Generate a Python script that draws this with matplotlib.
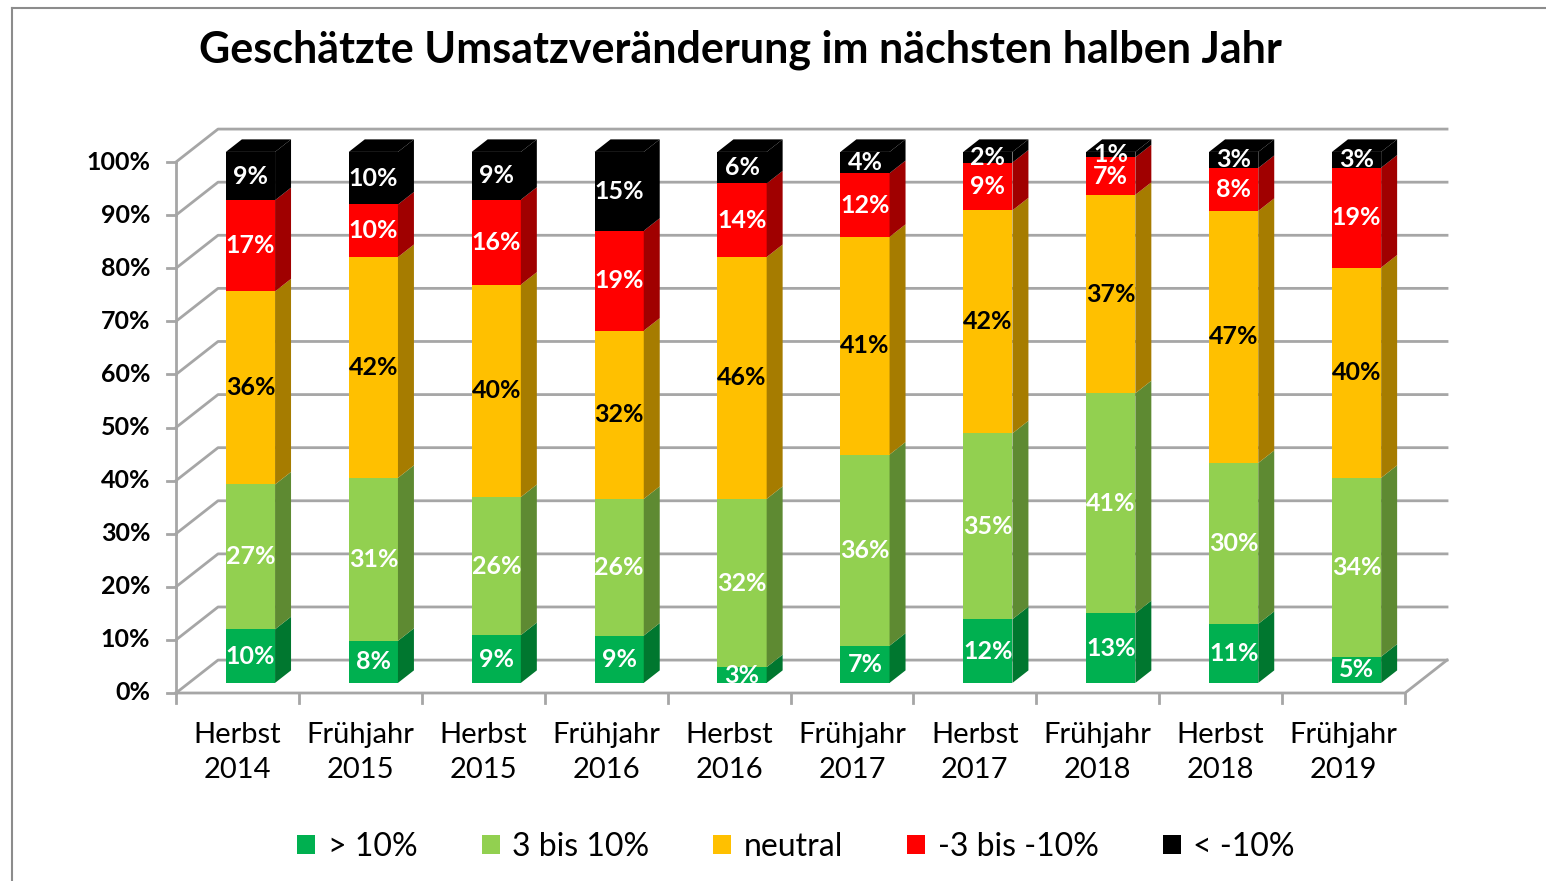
import matplotlib.pyplot as plt
import numpy as np
from matplotlib.patches import Polygon, Patch
from matplotlib.lines import Line2D

plt.rcParams['font.family'] = ['Lato', 'DejaVu Sans']

categories = ['Herbst\n2014', 'Frühjahr\n2015', 'Herbst\n2015', 'Frühjahr\n2016', 'Herbst\n2016',
              'Frühjahr\n2017', 'Herbst\n2017', 'Frühjahr\n2018', 'Herbst\n2018', 'Frühjahr\n2019']
series_names = ['> 10%', '3 bis 10%', 'neutral', '-3 bis -10%', '< -10%']
gt10 = [10, 8, 9, 9, 3, 7, 12, 13, 11, 5]
p3_10 = [27, 31, 26, 26, 32, 36, 35, 41, 30, 34]
neutral = [36, 42, 40, 32, 46, 41, 42, 37, 47, 40]
m3_10 = [17, 10, 16, 19, 14, 12, 9, 7, 8, 19]
lt10 = [9, 10, 9, 15, 6, 4, 2, 1, 3, 3]

colors = ['#00B050', '#92D050', '#FFC000', '#FF0000', '#000000']
side_colors = ['#00772F', '#5E8A32', '#A67C00', '#A00000', '#000000']
label_colors = ['white', 'white', 'black', 'white', 'white']

data = np.array([gt10, p3_10, neutral, m3_10, lt10], dtype=float)
pct = data / data.sum(axis=0) * 100  # 100% stacked like excel

fig = plt.figure(figsize=(15.46, 8.81), dpi=100)
ax = fig.add_axes([176 / 1546, 1 - 693 / 881, 1229 / 1546, 531 / 881])
ax.set_xlim(-0.5, 9.5)
ax.set_ylim(0, 100)
ax.axis('off')

# depth of the 3d box
DX, DY = 0.342, 6.2
fx, fy = 0.106, 1.9      # bar front plane
sx, sy = 0.13, 2.36      # bar depth
w = 0.4
grid_c = '#A6A6A6'
n = len(categories)

# back wall + left wall
for t in range(0, 101, 10):
    ax.plot([-0.5, -0.5 + DX, 9.5 + DX], [t, t + DY, t + DY], color=grid_c, lw=2, clip_on=False, zorder=1)
    ax.plot([-0.57, -0.5], [t, t], color=grid_c, lw=2, clip_on=False, zorder=1)
    ax.text(-0.71, t, f'{t}%', ha='right', va='center', fontsize=18, fontweight='bold', clip_on=False)
ax.plot([-0.5, -0.5], [0, 100], color=grid_c, lw=2, clip_on=False, zorder=1)
ax.plot([-0.5, 9.5, 9.5 + DX], [0, 0, DY], color=grid_c, lw=2, clip_on=False, zorder=1)
for b in np.arange(-0.5, n, 1.0):
    ax.plot([b, b], [0, -1.9], color=grid_c, lw=2, clip_on=False, zorder=1)

x = np.arange(n)
for i in range(n):
    bottom = fy
    xl = x[i] + fx - w / 2
    xr = x[i] + fx + w / 2
    for s in range(len(series_names)):
        v = pct[s, i]
        ax.bar(x[i] + fx, v, bottom=bottom, width=w, color=colors[s], zorder=3, clip_on=False)
        side = Polygon([(xr, bottom), (xr + sx, bottom + sy), (xr + sx, bottom + v + sy), (xr, bottom + v)],
                       closed=True, facecolor=side_colors[s], edgecolor='none', zorder=3, clip_on=False)
        ax.add_patch(side)
        ax.text(x[i] + fx, bottom + v / 2, f'{int(data[s, i])}%', ha='center', va='center',
                fontsize=18, fontweight='bold', color=label_colors[s], zorder=5, clip_on=False)
        bottom += v
    top = Polygon([(xl, bottom), (xl + sx, bottom + sy), (xr + sx, bottom + sy), (xr, bottom)],
                  closed=True, facecolor=colors[-1], edgecolor='none', zorder=3, clip_on=False)
    ax.add_patch(top)
    ax.text(x[i], -11.2, categories[i], ha='center', va='center', fontsize=21, linespacing=1.47,
            clip_on=False)

fig.text(0.479, 0.943, 'Geschätzte Umsatzveränderung im nächsten halben Jahr', ha='center', va='center',
         fontsize=31, fontweight='bold')

handles = [Patch(facecolor=c, edgecolor='none') for c in colors]
fig.legend(handles, series_names, loc='center', bbox_to_anchor=(0.515, 0.0386), ncol=5, frameon=False,
           fontsize=23, handlelength=0.56, handleheight=0.56, handletextpad=0.4, columnspacing=2.0)

# chart border
fig.add_artist(Line2D([12 / 1546, 12 / 1546], [0, 1 - 8 / 881], color='#8C8C8C', lw=1.5))
fig.add_artist(Line2D([12 / 1546, 1], [1 - 8 / 881, 1 - 8 / 881], color='#8C8C8C', lw=1.5))

fig.savefig('out.png', dpi=100)
